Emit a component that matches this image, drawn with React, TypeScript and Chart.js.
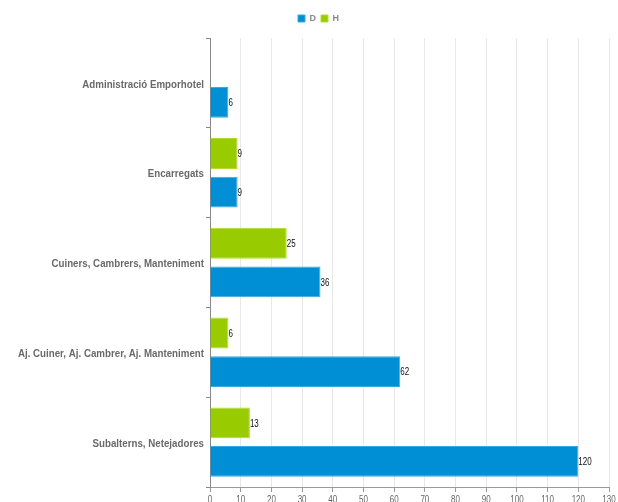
import React, { useEffect, useRef } from "react";
import { Chart, registerables } from "chart.js";

Chart.register(...registerables);

const categories = [
  "Administració Emporhotel",
  "Encarregats",
  "Cuiners, Cambrers, Manteniment",
  "Aj. Cuiner, Aj. Cambrer, Aj. Manteniment",
  "Subalterns, Netejadores",
];
const dValues = [6, 9, 36, 62, 120];
const hValues: (number | null)[] = [null, 9, 25, 6, 13];
const seriesNames = ["D", "H"];
const xMin = 0;
const xMax = 130;
const xStep = 10;

const BLUE = "#008fd5";
const BLUE_EDGE = "#3aa9e0";
const GREEN = "#99cc00";
const GREEN_EDGE = "#b3db33";

const PAD_L = 28;
const FONT = "'Liberation Sans', Arial, sans-serif";

function narrowText(ctx: CanvasRenderingContext2D, text: string, x: number, y: number, sx: number) {
  ctx.save();
  ctx.translate(x, y);
  ctx.scale(sx, 1);
  ctx.fillText(text, 0, 0);
  ctx.restore();
}

const axisText = {
  id: "axisText",
  afterDraw(chart: any) {
    const ctx: CanvasRenderingContext2D = chart.ctx;
    const xs = chart.scales.x;
    const ys = chart.scales.y;
    ctx.save();
    // category labels
    ctx.font = `bold 11px ${FONT}`;
    ctx.fillStyle = "#696969";
    ctx.textAlign = "right";
    ctx.textBaseline = "middle";
    ys.ticks.forEach((t: any, i: number) => {
      const y = ys.getPixelForTick(i);
      narrowText(ctx, String(ys.getLabelForValue(t.value)), ys.right - 6, y + 1.5, 0.885);
    });
    // value axis labels
    ctx.font = `10px ${FONT}`;
    ctx.fillStyle = "#666";
    ctx.textAlign = "center";
    ctx.textBaseline = "alphabetic";
    xs.ticks.forEach((t: any) => {
      const x = xs.getPixelForValue(t.value);
      narrowText(ctx, String(t.value), x, xs.bottom + 11, 0.8);
    });
    ctx.restore();
  },
  afterDatasetsDraw(chart: any) {
    const ctx: CanvasRenderingContext2D = chart.ctx;
    ctx.save();
    ctx.font = `10px ${FONT}`;
    ctx.fillStyle = "#111";
    ctx.textAlign = "left";
    ctx.textBaseline = "middle";
    chart.data.datasets.forEach((ds: any, di: number) => {
      const meta = chart.getDatasetMeta(di);
      if (meta.hidden) return;
      meta.data.forEach((el: any, i: number) => {
        const v = ds.data[i];
        if (v === null || v === undefined) return;
        narrowText(ctx, String(v), el.x, el.y + 1, 0.8);
      });
    });
    ctx.restore();
  },
};

export default function App() {
  const ref = useRef<HTMLCanvasElement | null>(null);
  useEffect(() => {
    if (!ref.current) return;
    const chart = new Chart(ref.current, {
      type: "bar",
      data: {
        labels: categories,
        datasets: [
          {
            label: seriesNames[1],
            data: hValues,
            backgroundColor: GREEN,
            borderColor: GREEN_EDGE,
            borderWidth: 1,
            categoryPercentage: 0.86,
            barPercentage: 0.8,
          },
          {
            label: seriesNames[0],
            data: dValues,
            backgroundColor: BLUE,
            borderColor: BLUE_EDGE,
            borderWidth: 1,
            categoryPercentage: 0.86,
            barPercentage: 0.8,
          },
        ],
      },
      options: {
        indexAxis: "y",
        responsive: false,
        animation: false,
        devicePixelRatio: 1,
        layout: { padding: { left: PAD_L, right: 9, top: 9, bottom: 10 } },
        plugins: {
          legend: {
            display: true,
            position: "top",
            reverse: true,
            labels: {
              boxWidth: 7,
              boxHeight: 7,
              padding: 5,
              color: "#888",
              font: { size: 9, family: FONT, weight: "bold" },
            },
          },
          tooltip: { enabled: false },
          title: {
            display: true,
            text: "",
            position: "top",
            weight: 500,
            font: { size: 1 },
            padding: { top: 4, bottom: 0 },
          },
        },
        scales: {
          x: {
            type: "linear",
            position: "bottom",
            min: xMin,
            max: xMax,
            ticks: {
              stepSize: xStep,
              display: false,
            },
            grid: {
              color: "#e8e8e8",
              tickColor: "#999",
              tickLength: 5,
            },
            border: { color: "#999" },
          },
          y: {
            type: "category",
            offset: true,
            ticks: { display: false },
            grid: {
              drawOnChartArea: false,
              tickColor: "#888",
              tickLength: 4,
            },
            border: { color: "#888" },
            afterFit: (scale: any) => {
              scale.width = 210 - PAD_L;
            },
          },
        },
      },
      plugins: [axisText],
    });
    return () => chart.destroy();
  }, []);
  return (
    <div style={{ position: "absolute", left: 0, top: 0, width: 618, height: 502 }}>
      <canvas ref={ref} width={618} height={502} />
    </div>
  );
}
